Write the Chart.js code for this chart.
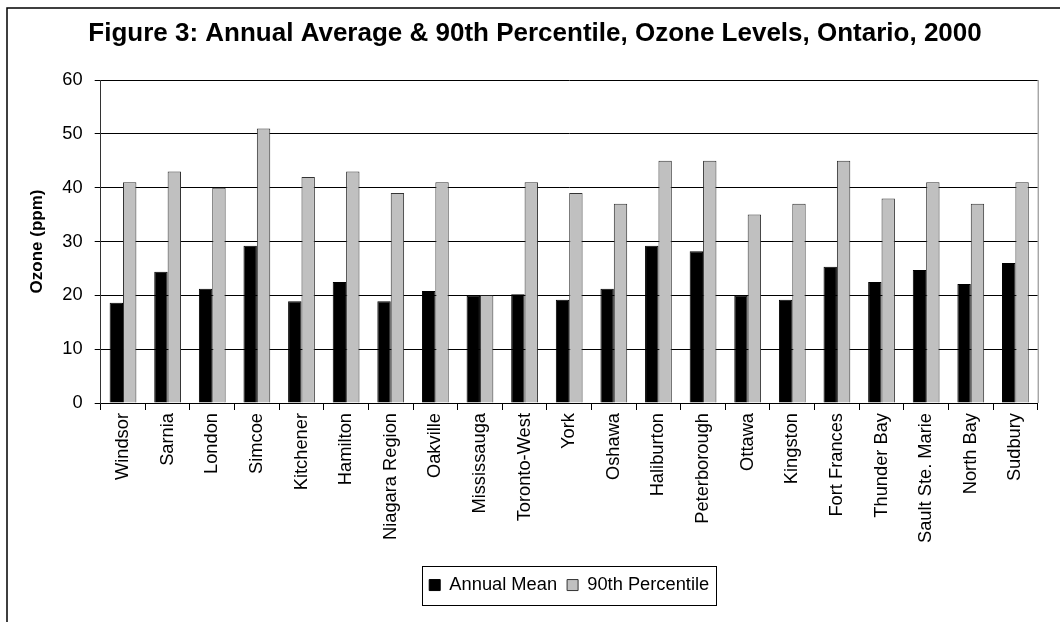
<!DOCTYPE html>
<html>
<head>
<meta charset="utf-8">
<script src="https://cdn.jsdelivr.net/npm/chart.js@4.4.1/dist/chart.umd.min.js"></script>
<style>
  html, body { margin: 0; padding: 0; background: #ffffff; }
  #wrap { width: 1060px; height: 622px; }
</style>
</head>
<body>
<div id="wrap"><canvas id="ozoneChart"></canvas></div>
<script>
// Data
const stations = [
    'Windsor', 'Sarnia', 'London', 'Simcoe', 'Kitchener', 'Hamilton', 'Niagara Region',
    'Oakville', 'Mississauga', 'Toronto-West', 'York', 'Oshawa', 'Haliburton', 'Peterborough',
    'Ottawa', 'Kingston', 'Fort Frances', 'Thunder Bay', 'Sault Ste. Marie', 'North Bay', 'Sudbury'
];
const annualMean = [
    18.6, 24.4, 21.2, 29.2, 18.9, 22.5, 18.9,
    20.8, 19.9, 20.2, 19.2, 21.2, 29.2, 28.2,
    19.9, 19.2, 25.3, 22.5, 24.7, 22.1, 26.0
];
const percentile90 = [
    41, 43, 40, 51, 42, 43, 39,
    41, 20, 41, 39, 37, 45, 45,
    35, 37, 45, 38, 41, 37, 41
];
const yTicks = [0, 10, 20, 30, 40, 50, 60];

const FONT = "'Liberation Sans', Arial, sans-serif";

// Outer frame, right border of plot area and legend box
const framePlugin = {
    id: 'frame',
    beforeDraw(chart) {
        const ctx = chart.ctx;
        ctx.save();
        ctx.fillStyle = '#ffffff';
        ctx.fillRect(0, 0, chart.width, chart.height);
        ctx.strokeStyle = '#000000';
        ctx.lineWidth = 1.5;
        ctx.strokeRect(7, 8, chart.width + 50, chart.height + 50);
        ctx.restore();
    },
    afterDraw(chart) {
        const ctx = chart.ctx;
        const a = chart.chartArea;
        ctx.save();
        ctx.strokeStyle = '#808080';
        ctx.lineWidth = 1;
        ctx.beginPath();
        ctx.moveTo(a.right + 0.5, a.top);
        ctx.lineTo(a.right + 0.5, a.bottom);
        ctx.stroke();

        const boxes = chart.legend && chart.legend.legendHitBoxes;
        if (boxes && boxes.length) {
            const first = boxes[0];
            const last = boxes[boxes.length - 1];
            const left = first.left - 7;
            const right = last.left + last.width + 7;
            const top = first.top - 10;
            const bottom = first.top + first.height + 11;
            ctx.strokeStyle = '#000000';
            ctx.lineWidth = 1;
            ctx.strokeRect(Math.round(left) + 0.5, Math.round(top) + 0.5,
                Math.round(right - left), Math.round(bottom - top));
        }
        ctx.restore();
    }
};

new Chart(document.getElementById('ozoneChart').getContext('2d'), {
    type: 'bar',
    data: {
        labels: stations,
        datasets: [{
            label: 'Annual Mean',
            data: annualMean,
            backgroundColor: '#000000',
            borderColor: '#000000',
            borderWidth: 1,
            categoryPercentage: 0.6,
            barPercentage: 1.0
        }, {
            label: '90th Percentile',
            data: percentile90,
            backgroundColor: '#c0c0c0',
            borderColor: '#333333',
            borderWidth: 1,
            categoryPercentage: 0.6,
            barPercentage: 1.0
        }]
    },
    options: {
        responsive: true,
        maintainAspectRatio: false,
        animation: false,
        layout: {
            // left padding chosen so the title centres where the original does
            padding: { left: 32.3, right: 22.3, top: 0, bottom: 17.8 }
        },
        scales: {
            x: {
                grid: {
                    offset: true,
                    drawOnChartArea: false,
                    drawTicks: true,
                    tickLength: 7,
                    color: '#000000'
                },
                border: { display: true, color: '#000000', width: 1 },
                ticks: {
                    autoSkip: false,
                    maxRotation: 90,
                    minRotation: 90,
                    padding: 3,
                    color: '#000000',
                    font: { family: FONT, size: 18.3 }
                },
                afterFit(scale) { scale.height = 162.9; }
            },
            y: {
                min: 0,
                max: 60,
                afterBuildTicks(scale) {
                    scale.ticks = yTicks.map(v => ({ value: v }));
                },
                grid: {
                    color: '#000000',
                    lineWidth: 1,
                    drawTicks: true,
                    tickLength: 6
                },
                border: { display: true, color: '#333333', width: 1 },
                ticks: {
                    padding: 12,
                    color: '#000000',
                    font: { family: FONT, size: 18.3 }
                },
                title: {
                    display: true,
                    text: 'Ozone (ppm)',
                    color: '#000000',
                    padding: { top: -5.5, bottom: 0 },
                    font: { family: FONT, size: 17, weight: 'bold' }
                },
                afterFit(scale) { scale.width = 68.4; }
            }
        },
        plugins: {
            title: {
                display: true,
                text: 'Figure 3: Annual Average & 90th Percentile, Ozone Levels, Ontario, 2000',
                color: '#000000',
                padding: { top: 18, bottom: 30.8 },
                font: { family: FONT, size: 26, weight: 'bold' }
            },
            legend: {
                position: 'bottom',
                fullSize: false,
                labels: {
                    boxWidth: 11,
                    boxHeight: 11,
                    padding: 10,
                    color: '#000000',
                    font: { family: FONT, size: 18.3 }
                }
            },
            tooltip: { enabled: false }
        }
    },
    plugins: [framePlugin]
});
</script>
</body>
</html>
